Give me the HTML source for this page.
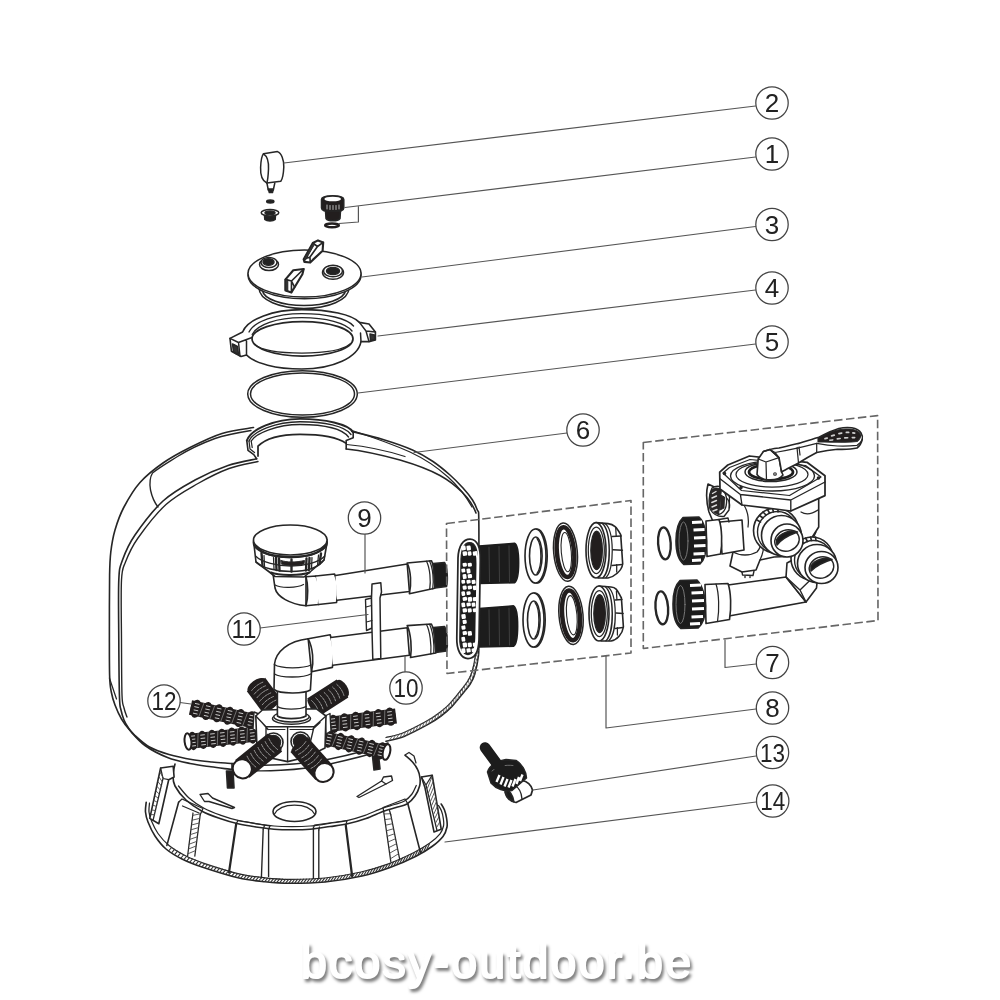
<!DOCTYPE html>
<html><head><meta charset="utf-8"><title>bcosy-outdoor.be</title>
<style>
html,body{margin:0;padding:0;background:#fff;}
body{width:1000px;height:1000px;overflow:hidden;position:relative;}
svg{position:absolute;left:0;top:0;display:block;filter:blur(0.45px);}
.n{font-family:"Liberation Sans",sans-serif;font-size:26px;fill:#222;text-anchor:middle;}
</style></head><body>
<svg width="1000" height="1000" viewBox="0 0 1000 1000" fill="none" stroke="#262626" stroke-width="1.5" stroke-linecap="round" stroke-linejoin="round">
<!-- 05_base.svg -->
<g id="base" stroke-width="1.62">
<path d="M146.2 802.2 C146.1 803.8 145.2 808.7 145.5 812 C145.8 815.3 146.4 818 148 822 C149.6 826 152 831.5 155 836 C158 840.5 161.5 845.2 166 849 C170.5 852.8 176 856 182 859 C188 862 192.7 863.9 202 867 C211.3 870.1 227.5 875.3 238 877.8 C248.5 880.3 256.3 880.9 265 881.8 C273.7 882.7 280 883.3 290 883.3 C300 883.3 313 883.2 325 882 C337 880.8 351.2 878.4 362 876 C372.8 873.6 381 870.8 390 867.5 C399 864.2 409 859.7 416 856.2 C423 852.7 427.5 849.8 432 846.5 C436.5 843.2 440.5 839.6 443 836.4 C445.5 833.1 446.4 830 447 827 C447.6 824 447 821.2 446.6 818.4 C446.2 815.6 445.4 812.4 444.5 810 C443.6 807.6 441.8 805 441.2 804" fill="#fff"/>
<path d="M149.5 803 C149.4 804.5 148.7 809 149 812 C149.3 815 150 817.4 151.5 821 C153 824.6 155.1 829.4 158 833.5 C160.9 837.6 164.5 841.8 169 845.5 C173.5 849.2 179.2 852.5 185 855.5 C190.8 858.5 195 860.2 204 863.3 C213 866.3 228.8 871.4 239 873.8 C249.2 876.2 256.5 876.9 265 877.8 C273.5 878.7 280 879.3 290 879.3 C300 879.3 313.2 879.2 325 878 C336.8 876.8 350.4 874.4 361 872 C371.6 869.6 379.7 867 388.5 863.8 C397.3 860.5 407.2 855.9 414 852.5 C420.8 849.1 425.2 846.4 429.5 843.3 C433.8 840.2 437.7 836.7 440 833.8 C442.3 830.9 442.9 828.6 443.5 826 C444.1 823.4 443.6 820.9 443.3 818.4 C443 815.9 442.3 813.1 441.5 811 C440.7 808.9 439 806.4 438.5 805.5" stroke-width="1.25"/>
<path d="M169 850.5 L171.5 847.5 M172 852.4 L174.5 849.3 M175 854.2 L177.5 851.2 M178 856.1 L180.5 853.1 M181 858 L183.5 855 M184 859.4 L186.5 856.5 M187 860.6 L189.5 857.7 M190 861.8 L192.5 859 M193 863 L195.5 860.2 M196 864.2 L198.5 861.4 M199 865.4 L201.5 862.7 M202 866.6 L204.5 863.8 M205 867.5 L207.5 864.7 M208 868.4 L210.5 865.6 M211 869.3 L213.5 866.5 M214 870.2 L216.5 867.4 M217 871.1 L219.5 868.3 M220 872 L222.5 869.2 M223 872.9 L225.5 870.1 M226 873.8 L228.5 871 M229 874.7 L231.5 871.9 M232 875.6 L234.5 872.8 M235 876.5 L237.5 873.7 M238 877.4 L240.5 874.4 M241 877.8 L243.5 874.9 M244 878.3 L246.5 875.4 M247 878.7 L249.5 875.8 M250 879.2 L252.5 876.3 M253 879.6 L255.5 876.7 M256 880.1 L258.5 877.2 M259 880.5 L261.5 877.7 M262 881 L264.5 878.1 M265 881.4 L267.5 878.3 M268 881.6 L270.5 878.5 M271 881.8 L273.5 878.7 M274 881.9 L276.5 878.9 M277 882.1 L279.5 879.1 M280 882.3 L282.5 879.2 M283 882.5 L285.5 879.4 M286 882.7 L288.5 879.6 M289 882.8 L291.5 879.6 M292 882.8 L294.5 879.5 M295 882.7 L297.5 879.4 M298 882.6 L300.5 879.3 M301 882.5 L303.5 879.2 M304 882.4 L306.5 879.1 M307 882.3 L309.5 879 M310 882.2 L312.5 878.9 M313 882 L315.5 878.8 M316 881.9 L318.5 878.6 M319 881.8 L321.5 878.5 M322 881.7 L324.5 878.4 M325 881.6 L327.5 878 M328 881.1 L330.5 877.5 M331 880.6 L333.5 877 M334 880.1 L336.5 876.5 M337 879.7 L339.5 876 M340 879.2 L342.5 875.5 M343 878.7 L345.5 875 M346 878.2 L348.5 874.5 M349 877.7 L351.5 874 M352 877.2 L354.5 873.5 M355 876.7 L357.5 873 M358 876.2 L360.5 872.5 M361 875.8 L363.5 871.7 M364 875 L366.5 870.8 M367 874.1 L369.5 869.9 M370 873.2 L372.5 869 M373 872.3 L375.5 868.1 M376 871.4 L378.5 867.2 M379 870.4 L381.5 866.3 M382 869.5 L384.5 865.4 M385 868.6 L387.5 864.5 M388 867.7 L390.5 863.3 M391 866.7 L393.5 862 M394 865.4 L396.5 860.7 M397 864.1 L399.5 859.3 M400 862.8 L402.5 858 M403 861.5 L405.5 856.7 M406 860.1 L408.5 855.3 M409 858.8 L411.5 854 M412 857.5 L414.5 852.6 M415 856.2 L417.5 850.8 M418 854.6 L420.5 849 M421 852.8 L423.5 847.3 M424 851 L426.5 845.5 M427 849.1 L429.5 843.7" stroke-width="1.12" stroke="#333"/>
<path d="M175 764 C174.7 765.8 173 771.3 173 775 C173 778.7 172.8 781.8 175 786 C177.2 790.2 181.5 795.8 186 800 C190.5 804.2 196.3 808.1 202 811.2 C207.7 814.3 214 816.4 220 818.5 C226 820.6 232 822.4 238 823.8 C244 825.2 250 826.1 256 827 C262 827.9 268 828.7 274 829.2 C280 829.7 286 829.8 292 829.8 C298 829.8 303.7 829.8 310 829.2 C316.3 828.7 323.7 827.4 330 826.5 C336.3 825.6 341.6 825.1 347.6 823.8 C353.6 822.5 360 820.6 366 818.5 C372 816.4 378.6 813 383.6 811.2 C388.6 809.4 392.1 808.7 396 807.5 C399.9 806.3 403.8 805.9 407 804 C410.2 802.1 412.9 799 415 796 C417.1 793 418.8 789 419.6 786 C420.4 783 420.3 780.7 420 778 C419.7 775.3 419.1 772.5 417.8 769.8 C416.6 767.1 414.6 764.4 412.5 762 C410.4 759.6 406.4 756.5 405.2 755.4" fill="#fff"/>
<path d="M178.5 786 C180.2 788 184.8 794.3 189 798 C193.2 801.7 198.7 805.3 204 808.2 C209.3 811.1 215.2 813.2 221 815.3 C226.8 817.4 233 819.2 239 820.6 C245 822 251.2 822.9 257 823.8 C262.8 824.7 268.2 825.5 274 826 C279.8 826.5 286 826.6 292 826.6 C298 826.6 303.8 826.5 310 826 C316.2 825.5 323.3 824.3 329.5 823.4 C335.7 822.5 341.1 822 347 820.6 C352.9 819.2 359.2 817.3 365 815.3 C370.8 813.2 377.1 810.1 382 808.3 C386.9 806.5 390.8 805.7 394.5 804.5 C398.2 803.3 401.6 802.8 404.5 801 C407.4 799.2 410 796.6 412 794 C414 791.4 415.6 786.9 416.3 785.5" stroke-width="1.25"/>
<path d="M178.6 802.2 L166.9 845.4" stroke-width="1.62"/>
<path d="M193 813 L187.6 856.2" stroke-width="1.25"/>
<path d="M200.2 814.8 L194.8 856.2" stroke-width="1.25"/>
<path d="M236.2 823.8 L229 872.4" stroke-width="2.25"/>
<path d="M263.2 829.2 L261.4 877.8" stroke-width="1.38"/>
<path d="M268.6 829.2 L268.6 876.5" stroke-width="1.38"/>
<path d="M313.4 828 L313.4 878.5" stroke-width="1.38"/>
<path d="M318.8 830 L318.8 878.7" stroke-width="1.38"/>
<path d="M345.8 825.6 L352.1 876" stroke-width="2.25"/>
<path d="M383.6 811.2 L390.8 861.6" stroke-width="1.25"/>
<path d="M390.8 814.8 L399.8 859.8" stroke-width="1.25"/>
<path d="M407.9 804 L420.5 852.6" stroke-width="1.62"/>
<path d="M192.7 815.4 L200.3 813.8 M192.1 820.2 L199.7 818.4 M191.5 825 L199.1 823 M190.9 829.8 L198.5 827.6 M190.3 834.6 L197.9 832.2 M189.7 839.4 L197.3 836.8 M189.1 844.2 L196.7 841.4 M188.5 849 L196.1 846 M187.9 853.8 L195.5 850.6" stroke-width="0.88" stroke="#444"/>
<path d="M384 814 L390.6 813.7 M384.8 819.6 L391.6 818.7 M385.6 825.2 L392.6 823.7 M386.4 830.8 L393.6 828.7 M387.2 836.4 L394.6 833.7 M388 842 L395.6 838.7 M388.8 847.6 L396.6 843.7 M389.6 853.2 L397.6 848.7 M390.4 858.8 L398.6 853.7" stroke-width="0.88" stroke="#444"/>
<path d="M178.6 802.2 L182 799 L203 808.5 L200.2 814.8 M182.5 806 L199 813" stroke-width="1.25"/>
<path d="M236.2 823.8 L238 820.5 L270 826 L268.6 829.2 M263.2 829.2 L264.5 825.5" stroke-width="1.25"/>
<path d="M313.4 828 L314.5 825 L347 820.5 L345.8 825.6 M318.8 830 L319.5 827" stroke-width="1.25"/>
<path d="M383.6 811.2 L383 807.5 L405 799 L407.9 804 M390.8 814.8 L389.5 810.5" stroke-width="1.25"/>
<path d="M160.6 768 L173.2 766.2 L174.1 777 L168.7 779.7 L158.8 823.8 L149.8 818.4Z" fill="#fff"/>
<path d="M160.6 768 L163 778.5 L168.7 779.7 M163 778.5 L153 820.5" stroke-width="1.25"/>
<path d="M160.1 772.4 L163.3 777.8 M159.1 777 L162.3 781.9 M158.1 781.8 L161.4 786 M157.1 786.5 L160.4 790.1 M156.1 791.1 L159.5 794.2 M155 795.9 L158.5 798.3 M154 800.5 L157.6 802.4 M153 805.2 L156.6 806.5 M152 810 L155.7 810.6 M151 814.6 L154.7 814.7" stroke-width="0.88" stroke="#444"/>
<path d="M421.4 777 L432.2 775.2 L441.2 829.2 L434 831.9 L425 787.8Z" fill="#fff"/>
<path d="M421.4 777 L426 785 L432.2 775.2 M426 785 L437 830.5" stroke-width="1.25"/>
<path d="M427.5 788.1 L432.2 776.5 M428.6 792.5 L433.1 781.5 M429.6 796.8 L433.9 786.5 M430.7 801 L434.8 791.5 M431.7 805.4 L435.6 796.5 M432.8 809.6 L436.5 801.5 M433.8 814 L437.3 806.5 M434.9 818.2 L438.2 811.5 M435.9 822.5 L439 816.5 M437 826.9 L439.9 821.5" stroke-width="0.88" stroke="#444"/>
<path d="M405 755 L409 752.5 L414 756 L416 763" stroke-width="1.25"/>
<ellipse cx="294.5" cy="811.5" rx="21.5" ry="10" fill="#fff"/>
<path d="M274.5 814 C278 807.5 286 805 294.5 805 C303 805 311 807.5 314.5 814" stroke-width="1.25"/>
<path d="M200 794.5 L208 793.5 L212.5 798 L234.5 807.5 L232 808.5 L209 801.5 L204.5 801.5Z" fill="#fff" stroke-width="1.38"/>
<path d="M357 796.5 L381.5 781 L383.5 777 L391.5 776 L392.5 780.5 L386 784 L359 797.5Z" fill="#fff" stroke-width="1.38"/>
<path d="M381.5 781 L386 784" stroke-width="1.25"/>
<path d="M226.5 771 L233 771 L234 788 L227.5 788Z" fill="#221e1e"/>
<path d="M372.5 756 L378.5 755 L380 769 L374 770Z" fill="#221e1e"/>
</g>
<!-- 10_tank.svg -->
<g id="tank" stroke-width="1.62">
<!-- outer silhouette -->
<path d="M253.5 427.5 C248.2 428.5 232.6 430.2 222 433.5 C211.4 436.8 199.8 442.6 190 447.5 C180.2 452.4 171.3 457.2 163 463 C154.7 468.8 146.5 475.2 140 482.5 C133.5 489.8 128.2 499.1 124 507 C119.8 514.9 117.2 522.5 115 530 C112.8 537.5 111.7 544.5 110.8 552 C109.9 559.5 109.8 562.8 109.6 575 C109.4 587.2 109.4 608.3 109.4 625 C109.4 641.7 109.3 663.8 109.6 675 C109.9 686.2 110.4 687 111.3 692 C112.2 697 113.3 700.5 115 705 C116.7 709.5 119 714.8 121.5 719 C124 723.2 126.1 726.1 130 730.5 C133.9 734.9 138.8 741 145 745.5 C151.2 750 160 754.5 167.5 757.5 C175 760.5 182.8 762 190 763.5 C197.2 765 204 765.8 211 766.8 C218 767.8 228.5 769 232 769.5"/>
<path d="M352 431.5 C357.2 432.8 372.9 436.4 383 439.5 C393.1 442.6 404.2 446.3 412.5 450 C420.8 453.7 426.8 457.3 433 461.5 C439.2 465.7 445 470.6 450 475 C455 479.4 459.2 483.8 463 488 C466.8 492.2 470.1 496.3 472.5 500 C474.9 503.7 476.2 506.7 477.3 510 C478.4 513.3 478.6 506.7 478.8 520 C479.1 533.3 478.8 570 478.8 590 C478.8 610 478.9 629 478.8 640 C478.7 651 479.1 650.3 478.4 656 C477.7 661.7 476.1 669.4 474.8 674 C473.5 678.6 472.3 680.5 470.5 683.5 C468.7 686.5 467.1 688.2 464 692 C460.9 695.8 455.8 702.4 452 706.4 C448.2 710.4 445 713 441 716 C437 719 434.2 721 428 724.4 C421.8 727.8 411 733.6 404 736.4 C397 739.2 389 740.4 386 741.2"/>
<path d="M476 640 C475.9 642.5 476.2 649.7 475.5 655 C474.8 660.3 473.3 667.7 472 672 C470.7 676.3 469.6 678.1 467.8 681 C466.1 683.9 464.5 685.7 461.5 689.5 C458.5 693.3 453.6 699.7 449.8 703.6 C446.1 707.5 442.9 710 439 713 C435.1 716 432.3 718 426.3 721.3 C420.3 724.6 409.5 730.3 402.8 733 C396.1 735.7 388.8 736.8 386 737.5" stroke-width="1.25"/><path d="M478.7 643.6 L476 640 M478.6 647.1 L475.9 643.4 M478.5 650.7 L475.8 646.9 M478.4 654.3 L475.7 650.3 M478 657.8 L475.5 653.7 M477.3 661.3 L475.1 657.1 M476.6 664.8 L474.4 660.5 M475.9 668.3 L473.7 663.9 M475.2 671.8 L473 667.2 M474.3 675.2 L472.3 670.6 M472.8 678.4 L471.2 673.8 M471.3 681.7 L469.7 676.9 M469.5 684.7 L468.2 680 M467.4 687.6 L466.4 682.9 M465.2 690.4 L464.3 685.7 M463 693.2 L462.3 688.4 M460.7 695.9 L460.2 691.1 M458.4 698.7 L458 693.8 M456.1 701.4 L455.8 696.4 M453.9 704.2 L453.6 699.1 M451.5 706.8 L451.4 701.7 M448.8 709.2 L449.1 704.2 M446.1 711.5 L446.5 706.5 M443.4 713.9 L443.9 708.7 M440.7 716.2 L441.3 711 M437.7 718.1 L438.7 713.2 M434.7 720 L435.8 715.1 M431.7 722 L432.9 717 M428.8 723.9 L430 718.9 M425.6 725.6 L427.2 720.7 M422.4 727.2 L424.1 722.4 M419.2 728.8 L421.1 723.9 M416 730.4 L418 725.4 M412.9 732 L414.9 727 M409.7 733.6 L411.8 728.5 M406.5 735.2 L408.8 730 M403.2 736.6 L405.7 731.6 M399.8 737.5 L402.6 733.1 M396.3 738.4 L399.3 733.9 M392.9 739.4 L396 734.8 M389.4 740.3 L392.6 735.7" stroke-width="0.88" stroke="#555"/>
<!-- neck -->
<path d="M246.8 440.6 L248 450.4 L253.8 454.6 L256.6 458.8"/>
<path d="M249 441 L250 449 L254.5 452.5 M251.2 441 L252.2 447.5" stroke-width="1.25"/>
<path d="M352 431 L353.2 432.2 L353.2 437.8 L346.2 440.6 L346.2 449"/>
<path d="M246.8 440.6 C251 429 275 419 300 418.9 C325 419 348 424 353.2 432.2" stroke-width="1.88"/>
<path d="M249 441 C253.5 431 276 421.8 300 421.7 C324 421.8 345 426 351 434.5" stroke-width="1.38"/>
<path d="M251.2 441 C256 433 277 424.6 300 424.5 C323 424.6 342 428.5 348.5 437" stroke-width="1.38"/>
<path d="M258 456 L258 446.2 C266 438 282 434.3 300 434.3 C320 434.3 338 437.5 346.2 443.4" stroke-width="1.75"/>
<!-- left shoulder cut lines -->
<path d="M256.6 458.8 C251.8 459.9 238.3 462 228 465.5 C217.7 469 205.8 474.1 195 480 C184.2 485.9 173 491.8 163 501 C153 510.2 141.8 525.2 135 535 C128.2 544.8 125.2 552.5 122.5 560 C119.8 567.5 119.4 566.7 118.8 580 C118.2 593.3 118.7 620.4 118.8 640 C118.9 659.6 119.1 685.8 119.5 697.5 C119.9 709.2 120.2 706.2 121 710 C121.8 713.8 122.8 717 124 720 C125.2 723 126.8 725.5 128.5 728 C130.2 730.5 131 731.8 134.5 735 C138 738.2 143.8 743.8 149.5 747 C155.2 750.2 161.8 752.4 169 754.5 C176.2 756.6 185.8 758.5 193 759.8 C200.2 761 205.5 761.4 212 762 C218.5 762.6 228.7 763.2 232 763.5 L232 769.5"/>
<path d="M258 461.5 C253.2 462.7 239 464.8 229 468.5 C219 472.2 208.5 477.5 198 483.5 C187.5 489.5 176 495.4 166 504.5 C156 513.6 144.8 528.4 138 538 C131.2 547.6 128.2 555 125.5 562 C122.8 569 122.2 567 121.5 580 C120.8 593 121.4 620.8 121.5 640 C121.6 659.2 121.6 683.7 122 695 C122.4 706.3 123.2 704.3 124 708 C124.8 711.7 126.5 715.5 127 717" stroke-width="1.38"/>
<path d="M109.4 678 L116.5 699" stroke-width="1.25"/>
<!-- left leaf -->
<path d="M251 430.5 C236 433 225 435 215 438.5 C200 444 188 450 177.5 456.5 C168 462.5 160 467 152.5 473 C149.5 478 149.5 484 150.5 490 C152 497 154 502 158 507" stroke-width="1.38"/>
<!-- right shoulder inner lines -->
<path d="M346.2 449 C360 450.5 380 454.5 400 460 C417 465 430 470 440 475.5 C450 481 457 487 462.5 492.5 C469 499 473 505 476 513"/>
<path d="M346.5 444.5 C362 446 385 450 405 456.5 M353.5 431 C375 438 392 444 410 452 C425 459 438 468 448 477 C458 486 466 496 472 507" stroke-width="1.25"/>
<!-- bottom cut edge behind laterals -->
<path d="M232 763.5 C262 767 300 765 330 759 C352 754.5 372 749 388 743"/><path d="M232 769.5 C262 772.5 300 770.5 330 764 C350 759.5 368 755 384 750" stroke-width="1.38"/>
</g>

<!-- 20_top.svg -->
<g id="gauge">
<path d="M263.5 153.8 L277.5 151.6 C281.5 153 284 160 283.8 167 C283.5 174 282.5 179 280.8 181.3 L266.8 183 C262.5 181 260.3 175 260.6 167.5 C260.9 160 262 155.5 263.5 153.8Z" fill="#fff"/>
<path d="M263.5 153.8 C267 156 268.8 162 268.5 169 C268.2 176 267.8 180 266.8 183"/>
<path d="M267 183.5 L268.3 190 L273.3 190 L274.8 183"/>
<path d="M268.3 189 L273.3 189 L272.5 192.5 L269.3 192.5Z" fill="#222"/>
<ellipse cx="270.3" cy="201.5" rx="3.6" ry="1.5" fill="#222"/>
<ellipse cx="270" cy="212.8" rx="8.8" ry="3.2" fill="#fff"/>
<ellipse cx="270" cy="212.8" rx="5" ry="1.8" fill="#222"/>
<path d="M264.5 215.5 L264.8 219.5 C267 221.5 273 221.5 275.2 219.5 L275.5 215.5 C272 217.2 268 217.2 264.5 215.5Z" fill="#222"/>
</g>
<g id="plug">
<path d="M321.5 199.5 C321.5 194.5 343.8 194.5 343.8 199.5 L343.8 208 C343.8 213 321.5 213 321.5 208Z" fill="#221e1e"/>
<ellipse cx="332.7" cy="199" rx="8.3" ry="2.3" fill="#fff" stroke="none"/>
<path d="M325.5 211 L326 218.5 C328 221.5 338 221.5 340 218.5 L340.5 211Z" fill="#221e1e"/>
<path d="M327 205 L327 209 M330 205.5 L330 209.5 M333 205.5 L333 209.5 M336 205.5 L336 209.5 M339 205 L339 209" stroke="#bbb" stroke-width="1"/>
<ellipse cx="332" cy="225.3" rx="6.8" ry="1.9" stroke="#221e1e" stroke-width="2.5"/>
</g>

<g id="lid">
<path d="M259 288 C259 300 280 308.5 304 308.5 C328 308.5 349 300 349 288" fill="#fff"/>
<path d="M262.5 291 C264 299 282 305.5 304 305.5 C326 305.5 344 299 345.5 291"/>
<ellipse cx="304.5" cy="275.3" rx="56.5" ry="23.5" fill="#fff"/>
<ellipse cx="304.5" cy="273.5" rx="56.5" ry="23.5" fill="#fff"/>
<!-- left port -->
<ellipse cx="269" cy="264.5" rx="9.5" ry="6" fill="#fff"/>
<ellipse cx="269" cy="262.5" rx="8" ry="5" fill="#fff"/>
<ellipse cx="268.5" cy="262" rx="5.5" ry="3.3" fill="#222"/>
<!-- right port -->
<ellipse cx="333" cy="272.5" rx="10.5" ry="6.8" fill="#fff"/>
<ellipse cx="333" cy="271" rx="9.5" ry="5.8" fill="#fff"/>
<ellipse cx="333" cy="271" rx="6.5" ry="3.6" fill="#222"/>
<!-- handles -->
<path d="M303.7 259.3 L312.8 243 L318 240.4 L323.2 242.4 L322.6 250.8 L312.8 259.9 L310.2 262.5 L304.4 261.9Z" fill="#fff" stroke-width="2.12"/>
<path d="M312.8 243 L317.5 246.5 L323.2 242.4 M317.5 246.5 L310 257 L310.2 262.5 M303.7 259.3 L310 257" stroke-width="1.62"/>
<path d="M303.7 259.3 L312.8 243 L314.5 244.3 L305.5 260Z" fill="#333" stroke-width="1"/>
<path d="M285.5 279.4 L293.3 270.3 L303.7 269 L302.4 274.2 L294.6 287.2 L291.4 292.4 L285.5 290.5Z" fill="#fff" stroke-width="2.12"/>
<path d="M285.5 279.4 L291.5 281 L303.7 269 M291.5 281 L291.4 292.4 M291.5 281 L294.6 287.2" stroke-width="1.62"/>
<path d="M285.5 279.4 L287.8 280 L287.8 291.2 L285.5 290.5Z" fill="#333" stroke-width="1"/>
</g>
<g id="clamp">
<path d="M242.6 332 L230 338.4 L230.5 343 L231.4 351.2 L241 356.5 L246.5 355 C255 363.5 276 369 301.8 369 C333 369 358 357.5 361 341.6 L369 341.6 L375.4 340 L375.4 332 L369 324 L359.4 322.4 C352 314.5 329 309.6 301.8 309.6 C273 309.6 248 319 242.6 332Z" fill="#fff" stroke-width="1.62"/>
<path d="M249 332 C254 321.5 276 313.6 301.8 313.6 C327 313.6 347 318.5 353.5 326" stroke-width="1.38"/>
<path d="M252.2 334.5 C257 324.5 277 317.6 301.8 317.6 C326 317.6 346 323 352 331" stroke-width="1.38"/>
<ellipse cx="302.5" cy="338.8" rx="50.5" ry="17.3" fill="#fff" stroke-width="1.75"/>
<path d="M255 344.5 C262 351 279 353 302 353 C325 353 343 350 350 344" stroke-width="1.25"/>
<path d="M230 338.4 L238.5 342.5 L252 337.5 M238.5 342.5 L240 356 M234.5 345 L235.5 353.5 M246.5 341 L246.5 355" stroke-width="1.5"/>
<path d="M232.5 344 L237.5 346.5 L238.5 354.5 L233.5 352Z" fill="#333"/>
<path d="M359.4 322.4 L366 331 L369 341.6 M366 331 L375.4 332 M361 341.6 L360.5 333" stroke-width="1.5"/>
<path d="M370 334 L374.5 335 L374.8 339.5 L370.5 340.5Z" fill="#333"/>
</g>
<g id="oring">
<ellipse cx="302.5" cy="394" rx="54.8" ry="23.3" fill="#fff" stroke-width="1.5"/>
<ellipse cx="302.5" cy="394" rx="52" ry="21" stroke-width="1.5"/>
</g>

<!-- 25_laterals.svg -->
<g id="laterals">
<ellipse cx="256.3" cy="684.9" rx="4.5" ry="9.9" transform="rotate(53.3 256 684.5)" fill="#221e1e" stroke="none"/>
<path d="M256 684.5 L272 706" stroke="#221e1e" stroke-width="22.88" stroke-linecap="butt"/>
<ellipse cx="256" cy="684.5" rx="2.4" ry="10.2" transform="rotate(53.3 256 684.5)" fill="#221e1e" stroke="none"/>
<ellipse cx="258.7" cy="688.1" rx="2.4" ry="10.2" transform="rotate(53.3 258.7 688.1)" fill="#221e1e" stroke="none"/>
<ellipse cx="261.3" cy="691.7" rx="2.4" ry="10.2" transform="rotate(53.3 261.3 691.7)" fill="#221e1e" stroke="none"/>
<ellipse cx="264" cy="695.2" rx="2.4" ry="10.2" transform="rotate(53.3 264 695.2)" fill="#221e1e" stroke="none"/>
<ellipse cx="266.7" cy="698.8" rx="2.4" ry="10.2" transform="rotate(53.3 266.7 698.8)" fill="#221e1e" stroke="none"/>
<ellipse cx="269.3" cy="702.4" rx="2.4" ry="10.2" transform="rotate(53.3 269.3 702.4)" fill="#221e1e" stroke="none"/>
<ellipse cx="272" cy="706" rx="2.4" ry="10.2" transform="rotate(53.3 272 706)" fill="#221e1e" stroke="none"/>
<path d="M251.7 690.5 Q256.3 684.8 263 682.1 M254.3 694.1 Q258.9 688.4 265.7 685.7 M257 697.7 Q261.6 692 268.3 689.2 M259.7 701.3 Q264.3 695.6 271 692.8 M262.3 704.8 Q266.9 699.2 273.7 696.4 M265 708.4 Q269.6 702.8 276.3 700" stroke="#a8a8a8" stroke-width="0.88" stroke-dasharray="2.6 1.2"/>
<ellipse cx="342.1" cy="688.8" rx="4.5" ry="9.4" transform="rotate(147.2 342.5 688.5)" fill="#221e1e" stroke="none"/>
<path d="M342.5 688.5 L313 707.5" stroke="#221e1e" stroke-width="21.62" stroke-linecap="butt"/>
<ellipse cx="342.5" cy="688.5" rx="2.4" ry="9.8" transform="rotate(147.2 342.5 688.5)" fill="#221e1e" stroke="none"/>
<ellipse cx="338.3" cy="691.2" rx="2.4" ry="9.8" transform="rotate(147.2 338.3 691.2)" fill="#221e1e" stroke="none"/>
<ellipse cx="334.1" cy="693.9" rx="2.4" ry="9.8" transform="rotate(147.2 334.1 693.9)" fill="#221e1e" stroke="none"/>
<ellipse cx="329.9" cy="696.6" rx="2.4" ry="9.8" transform="rotate(147.2 329.9 696.6)" fill="#221e1e" stroke="none"/>
<ellipse cx="325.6" cy="699.4" rx="2.4" ry="9.8" transform="rotate(147.2 325.6 699.4)" fill="#221e1e" stroke="none"/>
<ellipse cx="321.4" cy="702.1" rx="2.4" ry="9.8" transform="rotate(147.2 321.4 702.1)" fill="#221e1e" stroke="none"/>
<ellipse cx="317.2" cy="704.8" rx="2.4" ry="9.8" transform="rotate(147.2 317.2 704.8)" fill="#221e1e" stroke="none"/>
<ellipse cx="313" cy="707.5" rx="2.4" ry="9.8" transform="rotate(147.2 313 707.5)" fill="#221e1e" stroke="none"/>
<path d="M336.8 684.4 Q341.9 688.9 343.9 695.4 M332.6 687.1 Q337.7 691.6 339.7 698.1 M328.4 689.8 Q333.5 694.3 335.5 700.8 M324.2 692.5 Q329.3 697 331.3 703.5 M320 695.2 Q325 699.7 327.1 706.2 M315.8 697.9 Q320.8 702.5 322.9 708.9 M311.6 700.6 Q316.6 705.2 318.7 711.6" stroke="#a8a8a8" stroke-width="0.88" stroke-dasharray="2.6 1.2"/>
<path d="M190.5 707.5 L256 721.5" stroke="#221e1e" stroke-width="15" stroke-linecap="butt"/>
<ellipse cx="196" cy="708.7" rx="5.4" ry="9.2" transform="rotate(12.1 196 708.7)" fill="#221e1e" stroke="none"/>
<ellipse cx="206.9" cy="711" rx="5.4" ry="9.2" transform="rotate(12.1 206.9 711)" fill="#221e1e" stroke="none"/>
<ellipse cx="217.8" cy="713.3" rx="5.4" ry="9.2" transform="rotate(12.1 217.8 713.3)" fill="#221e1e" stroke="none"/>
<ellipse cx="228.7" cy="715.7" rx="5.4" ry="9.2" transform="rotate(12.1 228.7 715.7)" fill="#221e1e" stroke="none"/>
<ellipse cx="239.6" cy="718" rx="5.4" ry="9.2" transform="rotate(12.1 239.6 718)" fill="#221e1e" stroke="none"/>
<ellipse cx="250.5" cy="720.3" rx="5.4" ry="9.2" transform="rotate(12.1 250.5 720.3)" fill="#221e1e" stroke="none"/>
<path d="M195 703.4 L199.5 704.4 M194.3 706.6 L198.8 707.6 M193.7 709.9 L198.2 710.8 M193 713.1 L197.5 714.1 M206 705.7 L210.5 706.7 M205.3 709 L209.8 709.9 M204.6 712.2 L209.1 713.2 M203.9 715.4 L208.4 716.4 M216.9 708.1 L221.4 709 M216.2 711.3 L220.7 712.3 M215.5 714.5 L220 715.5 M214.8 717.8 L219.3 718.7 M227.8 710.4 L232.3 711.4 M227.1 713.6 L231.6 714.6 M226.4 716.9 L230.9 717.8 M225.7 720.1 L230.2 721.1 M238.7 712.7 L243.2 713.7 M238 716 L242.5 716.9 M237.3 719.2 L241.8 720.2 M236.6 722.4 L241.1 723.4 M249.6 715.1 L254.1 716 M248.9 718.3 L253.4 719.3 M248.2 721.5 L252.7 722.5 M247.6 724.8 L252 725.7" stroke="#c8c8c8" stroke-width="1" stroke-linecap="butt"/>
<path d="M199 716.2 L203.8 703.4 M209.9 718.6 L214.7 705.8 M220.9 720.9 L225.6 708.1 M231.8 723.2 L236.6 710.4 M242.7 725.6 L247.5 712.8" stroke="#8a8a8a" stroke-width="0.75"/>
<path d="M396 716 L328 724.5" stroke="#221e1e" stroke-width="15" stroke-linecap="butt"/>
<ellipse cx="390.3" cy="716.7" rx="5.5" ry="9.2" transform="rotate(172.9 390.3 716.7)" fill="#221e1e" stroke="none"/>
<ellipse cx="379" cy="718.1" rx="5.5" ry="9.2" transform="rotate(172.9 379 718.1)" fill="#221e1e" stroke="none"/>
<ellipse cx="367.7" cy="719.5" rx="5.5" ry="9.2" transform="rotate(172.9 367.7 719.5)" fill="#221e1e" stroke="none"/>
<ellipse cx="356.3" cy="721" rx="5.5" ry="9.2" transform="rotate(172.9 356.3 721)" fill="#221e1e" stroke="none"/>
<ellipse cx="345" cy="722.4" rx="5.5" ry="9.2" transform="rotate(172.9 345 722.4)" fill="#221e1e" stroke="none"/>
<ellipse cx="333.7" cy="723.8" rx="5.5" ry="9.2" transform="rotate(172.9 333.7 723.8)" fill="#221e1e" stroke="none"/>
<path d="M392.9 721.4 L388.4 721.9 M392.5 718.1 L388 718.7 M392.1 714.8 L387.5 715.4 M391.7 711.5 L387.1 712.1 M381.6 722.8 L377 723.4 M381.2 719.5 L376.6 720.1 M380.8 716.2 L376.2 716.8 M380.4 713 L375.8 713.5 M370.3 724.2 L365.7 724.8 M369.9 720.9 L365.3 721.5 M369.4 717.7 L364.9 718.2 M369 714.4 L364.5 714.9 M358.9 725.6 L354.4 726.2 M358.5 722.3 L354 722.9 M358.1 719.1 L353.5 719.6 M357.7 715.8 L353.1 716.4 M347.6 727 L343 727.6 M347.2 723.8 L342.6 724.3 M346.8 720.5 L342.2 721.1 M346.4 717.2 L341.8 717.8 M336.3 728.5 L331.7 729 M335.9 725.2 L331.3 725.8 M335.4 721.9 L330.9 722.5 M335 718.6 L330.5 719.2" stroke="#c8c8c8" stroke-width="1" stroke-linecap="butt"/>
<path d="M384.8 710.6 L384.5 724.2 M373.5 712 L373.2 725.7 M362.2 713.4 L361.8 727.1 M350.8 714.8 L350.5 728.5 M339.5 716.3 L339.2 729.9" stroke="#8a8a8a" stroke-width="0.75"/>
<path d="M188 741.5 L257 734" stroke="#221e1e" stroke-width="15" stroke-linecap="butt"/>
<ellipse cx="192.9" cy="741" rx="4.8" ry="9.2" transform="rotate(-6.2 192.9 741)" fill="#221e1e" stroke="none"/>
<ellipse cx="202.8" cy="739.9" rx="4.8" ry="9.2" transform="rotate(-6.2 202.8 739.9)" fill="#221e1e" stroke="none"/>
<ellipse cx="212.6" cy="738.8" rx="4.8" ry="9.2" transform="rotate(-6.2 212.6 738.8)" fill="#221e1e" stroke="none"/>
<ellipse cx="222.5" cy="737.8" rx="4.8" ry="9.2" transform="rotate(-6.2 222.5 737.8)" fill="#221e1e" stroke="none"/>
<ellipse cx="232.4" cy="736.7" rx="4.8" ry="9.2" transform="rotate(-6.2 232.4 736.7)" fill="#221e1e" stroke="none"/>
<ellipse cx="242.2" cy="735.6" rx="4.8" ry="9.2" transform="rotate(-6.2 242.2 735.6)" fill="#221e1e" stroke="none"/>
<ellipse cx="252.1" cy="734.5" rx="4.8" ry="9.2" transform="rotate(-6.2 252.1 734.5)" fill="#221e1e" stroke="none"/>
<path d="M190.4 736.3 L195 735.8 M190.8 739.5 L195.3 739 M191.1 742.8 L195.7 742.3 M191.5 746.1 L196 745.6 M200.3 735.2 L204.8 734.7 M200.6 738.5 L205.2 738 M201 741.8 L205.5 741.3 M201.3 745 L205.9 744.5 M210.1 734.1 L214.7 733.6 M210.5 737.4 L215 736.9 M210.8 740.7 L215.4 740.2 M211.2 744 L215.8 743.5 M220 733 L224.5 732.5 M220.3 736.3 L224.9 735.8 M220.7 739.6 L225.3 739.1 M221 742.9 L225.6 742.4 M229.8 732 L234.4 731.5 M230.2 735.3 L234.8 734.8 M230.5 738.5 L235.1 738 M230.9 741.8 L235.5 741.3 M239.7 730.9 L244.3 730.4 M240 734.2 L244.6 733.7 M240.4 737.5 L245 737 M240.8 740.7 L245.3 740.3 M249.5 729.8 L254.1 729.3 M249.9 733.1 L254.5 732.6 M250.3 736.4 L254.8 735.9 M250.6 739.7 L255.2 739.2" stroke="#c8c8c8" stroke-width="1" stroke-linecap="butt"/>
<path d="M197.6 747.2 L198.1 733.6 M207.4 746.2 L208 732.5 M217.3 745.1 L217.8 731.5 M227.2 744 L227.7 730.4 M237 743 L237.6 729.3 M246.9 741.9 L247.4 728.3" stroke="#8a8a8a" stroke-width="0.75"/>
<ellipse cx="188" cy="741.5" rx="3.4" ry="8.3" transform="rotate(-6.2 188 741.5)" fill="#fff" stroke="#221e1e" stroke-width="2"/>
<path d="M386.5 752 L324 738" stroke="#221e1e" stroke-width="13.75" stroke-linecap="butt"/>
<ellipse cx="381.3" cy="750.8" rx="5.1" ry="8.8" transform="rotate(-167.4 381.3 750.8)" fill="#221e1e" stroke="none"/>
<ellipse cx="370.9" cy="748.5" rx="5.1" ry="8.8" transform="rotate(-167.4 370.9 748.5)" fill="#221e1e" stroke="none"/>
<ellipse cx="360.5" cy="746.2" rx="5.1" ry="8.8" transform="rotate(-167.4 360.5 746.2)" fill="#221e1e" stroke="none"/>
<ellipse cx="350" cy="743.8" rx="5.1" ry="8.8" transform="rotate(-167.4 350 743.8)" fill="#221e1e" stroke="none"/>
<ellipse cx="339.6" cy="741.5" rx="5.1" ry="8.8" transform="rotate(-167.4 339.6 741.5)" fill="#221e1e" stroke="none"/>
<ellipse cx="329.2" cy="739.2" rx="5.1" ry="8.8" transform="rotate(-167.4 329.2 739.2)" fill="#221e1e" stroke="none"/>
<path d="M382.2 755.8 L377.7 754.8 M382.9 752.8 L378.4 751.8 M383.6 749.7 L379.1 748.7 M384.3 746.7 L379.8 745.7 M371.8 753.5 L367.3 752.5 M372.5 750.5 L368 749.5 M373.2 747.4 L368.7 746.4 M373.9 744.4 L369.4 743.4 M361.4 751.2 L356.9 750.2 M362.1 748.1 L357.6 747.1 M362.8 745.1 L358.3 744.1 M363.4 742 L358.9 741 M351 748.8 L346.5 747.8 M351.7 745.8 L347.2 744.8 M352.3 742.7 L347.8 741.7 M353 739.7 L348.5 738.7 M340.6 746.5 L336.1 745.5 M341.2 743.5 L336.7 742.5 M341.9 740.4 L337.4 739.4 M342.6 737.4 L338.1 736.4 M330.1 744.2 L325.6 743.2 M330.8 741.1 L326.3 740.1 M331.5 738.1 L327 737.1 M332.2 735 L327.7 734" stroke="#c8c8c8" stroke-width="1" stroke-linecap="butt"/>
<path d="M378.4 743.8 L373.7 755.5 M368 741.5 L363.3 753.2 M357.6 739.1 L352.9 750.9 M347.2 736.8 L342.5 748.5 M336.8 734.5 L332.1 746.2" stroke="#8a8a8a" stroke-width="0.75"/>
<ellipse cx="386.5" cy="752" rx="3.6" ry="8" transform="rotate(-167.4 386.5 752)" fill="#fff" stroke="#221e1e" stroke-width="2"/>
<path d="M254 712 L259 714 L259 732 L253 729Z M330 713.5 L325 716 L326 734 L331 731Z" fill="#fff" stroke-width="1.38"/>
<path d="M255.8 716 L262.4 710 L316.4 708.8 L326 716 L325 748 L306.8 757 L287.6 761.6 L266 757 L257 748Z" fill="#fff" stroke-width="1.62"/>
<path d="M255.8 716 L266 726.8 L314 726.8 L326 716 M266 726.8 L266 757 M314 726.8 L306.8 757 M287.6 727 L287.6 761.6 M262 722.5 L268 729.5 M320 722.5 L312.5 729.5" stroke-width="1.38"/>
<path d="M268.5 729.5 L285 729.5 M290 729.5 L311.5 729.5" stroke-width="1.12"/>
<ellipse cx="291.5" cy="718.5" rx="19" ry="5.8" fill="#fff" stroke-width="1.5"/>
<ellipse cx="291.5" cy="716.8" rx="17.6" ry="5.2" fill="#fff" stroke-width="1.38"/>
<circle cx="273.5" cy="742.5" r="9.5" fill="#fff" stroke-width="1.62"/><circle cx="273.5" cy="742.5" r="7" fill="#221e1e"/>
<circle cx="300.5" cy="741.5" r="9.5" fill="#fff" stroke-width="1.62"/><circle cx="300.5" cy="741.5" r="7" fill="#221e1e"/>
<path d="M242.3 768.8 L275 742.5" stroke="#221e1e" stroke-width="22.88" stroke-linecap="butt"/>
<ellipse cx="242.3" cy="768.8" rx="2.4" ry="10.2" transform="rotate(-38.8 242.3 768.8)" fill="#221e1e" stroke="none"/>
<ellipse cx="245.9" cy="765.9" rx="2.4" ry="10.2" transform="rotate(-38.8 245.9 765.9)" fill="#221e1e" stroke="none"/>
<ellipse cx="249.6" cy="763" rx="2.4" ry="10.2" transform="rotate(-38.8 249.6 763)" fill="#221e1e" stroke="none"/>
<ellipse cx="253.2" cy="760" rx="2.4" ry="10.2" transform="rotate(-38.8 253.2 760)" fill="#221e1e" stroke="none"/>
<ellipse cx="256.8" cy="757.1" rx="2.4" ry="10.2" transform="rotate(-38.8 256.8 757.1)" fill="#221e1e" stroke="none"/>
<ellipse cx="260.5" cy="754.2" rx="2.4" ry="10.2" transform="rotate(-38.8 260.5 754.2)" fill="#221e1e" stroke="none"/>
<ellipse cx="264.1" cy="751.3" rx="2.4" ry="10.2" transform="rotate(-38.8 264.1 751.3)" fill="#221e1e" stroke="none"/>
<ellipse cx="267.7" cy="748.3" rx="2.4" ry="10.2" transform="rotate(-38.8 267.7 748.3)" fill="#221e1e" stroke="none"/>
<ellipse cx="271.4" cy="745.4" rx="2.4" ry="10.2" transform="rotate(-38.8 271.4 745.4)" fill="#221e1e" stroke="none"/>
<ellipse cx="275" cy="742.5" rx="2.4" ry="10.2" transform="rotate(-38.8 275 742.5)" fill="#221e1e" stroke="none"/>
<path d="M248.5 772.8 Q242.7 768.5 239.7 761.8 M252.2 769.9 Q246.3 765.5 243.3 758.9 M255.8 767 Q250 762.6 247 756 M259.4 764.1 Q253.6 759.7 250.6 753.1 M263.1 761.1 Q257.2 756.8 254.2 750.2 M266.7 758.2 Q260.9 753.9 257.9 747.2 M270.3 755.3 Q264.5 750.9 261.5 744.3 M274 752.4 Q268.1 748 265.1 741.4 M277.6 749.5 Q271.8 745.1 268.8 738.5" stroke="#a8a8a8" stroke-width="0.88" stroke-dasharray="2.6 1.2"/>
<ellipse cx="242.3" cy="768.8" rx="9.4" ry="9.8" transform="rotate(-38.8 242.3 768.8)" fill="#fff" stroke="#221e1e" stroke-width="2"/>
<path d="M324 772.5 L299 744.5" stroke="#221e1e" stroke-width="22.88" stroke-linecap="butt"/>
<ellipse cx="324" cy="772.5" rx="2.4" ry="10.2" transform="rotate(-131.8 324 772.5)" fill="#221e1e" stroke="none"/>
<ellipse cx="320.9" cy="769" rx="2.4" ry="10.2" transform="rotate(-131.8 320.9 769)" fill="#221e1e" stroke="none"/>
<ellipse cx="317.8" cy="765.5" rx="2.4" ry="10.2" transform="rotate(-131.8 317.8 765.5)" fill="#221e1e" stroke="none"/>
<ellipse cx="314.6" cy="762" rx="2.4" ry="10.2" transform="rotate(-131.8 314.6 762)" fill="#221e1e" stroke="none"/>
<ellipse cx="311.5" cy="758.5" rx="2.4" ry="10.2" transform="rotate(-131.8 311.5 758.5)" fill="#221e1e" stroke="none"/>
<ellipse cx="308.4" cy="755" rx="2.4" ry="10.2" transform="rotate(-131.8 308.4 755)" fill="#221e1e" stroke="none"/>
<ellipse cx="305.2" cy="751.5" rx="2.4" ry="10.2" transform="rotate(-131.8 305.2 751.5)" fill="#221e1e" stroke="none"/>
<ellipse cx="302.1" cy="748" rx="2.4" ry="10.2" transform="rotate(-131.8 302.1 748)" fill="#221e1e" stroke="none"/>
<ellipse cx="299" cy="744.5" rx="2.4" ry="10.2" transform="rotate(-131.8 299 744.5)" fill="#221e1e" stroke="none"/>
<path d="M327.7 766.1 Q323.6 772.1 317.2 775.4 M324.6 762.6 Q320.5 768.6 314.1 771.9 M321.4 759.1 Q317.4 765.1 310.9 768.4 M318.3 755.6 Q314.3 761.6 307.8 764.9 M315.2 752.1 Q311.1 758.1 304.7 761.4 M312.1 748.6 Q308 754.6 301.6 757.9 M308.9 745.1 Q304.9 751.1 298.4 754.4 M305.8 741.6 Q301.8 747.6 295.3 750.9" stroke="#a8a8a8" stroke-width="0.88" stroke-dasharray="2.6 1.2"/>
<ellipse cx="324" cy="772.5" rx="9.2" ry="10" transform="rotate(-131.8 324 772.5)" fill="#fff" stroke="#221e1e" stroke-width="2"/>
</g>
<!-- 30_pipes.svg -->
<g id="pipes" stroke-width="1.62">
<!-- lower pipe 10 -->
<!-- vertical pipe from hub -->
<path d="M277.4 688 L277.4 716 C282 719.5 300 719.5 306 716 L306 688Z" fill="#fff"/>
<path d="M277.4 706.5 C282 710 300 710 306 706.5" stroke-width="1.38"/>
<!-- elbow -->
<path d="M274 689.5 L274.5 664 C276 652 288 641 308.2 638.8 L311.5 671.8 L310.4 690 C304 694 280 694 274 689.5Z" fill="#fff"/>
<path d="M274.5 674 C280 678 304 678 310.7 674" stroke-width="1.38"/>
<path d="M274.3 664.5 C281 669 304 668.5 311 665" stroke-width="1.25"/>
<!-- coupling -->
<path d="M308.2 638.8 L330.2 634.8 C333.5 645 334 658 332.4 667.4 L311.5 671.8 C314 662 313 648 308.2 638.8Z" fill="#fff"/>
<!-- main -->
<path d="M330.8 637.5 L407.2 627.8 L409.4 655.3 L332.8 665.2" fill="#fff"/>
<!-- right coupling -->
<path d="M407.2 625.6 L431.4 624 C435 631 436.5 645 435.8 653 L410.5 657.5 C412 648 411 634 407.2 625.6Z" fill="#fff"/>
<path d="M426.5 624.5 C430 631 431.5 645 430.8 654" stroke-width="1.25"/><path d="M429.5 624.3 C433 631 434.5 645 433.8 653.4" stroke-width="1.25"/>
<path d="M433.5 627.5 L444.5 626.5 C447.5 632 448 645 446.5 651 L435.8 652.5Z" fill="#1c1c1c"/>
<!-- upper pipe 9 -->
<!-- elbow under diffuser -->
<path d="M273 574 L275 588 C277 597 290 604 306 605.8 L306 577 L303.8 573Z" fill="#fff"/>
<path d="M275 585 C281 588.5 297 588 303.5 584.5" stroke-width="1.25"/>
<!-- coupling 1 -->
<path d="M306 576.8 L316 576 C319.5 584 320 596 318.5 604.5 L306 605.8 C308.5 597 308 584 306 576.8Z" fill="#fff"/>
<!-- sleeve -->
<path d="M316 576 L334.6 574 C338 582 338.5 594 336.5 602.5 L318.5 604.5" fill="#fff"/>
<!-- main -->
<path d="M335.5 575.5 L407.2 564 L409.4 591.5 L337 600.3" fill="#fff"/>
<!-- right coupling -->
<path d="M407.2 563 L431.4 560.7 C435 568 436 581 434.7 588.2 L409.4 593.7 C411.5 584 411 571 407.2 563Z" fill="#fff"/>
<path d="M426.5 561.2 C430 568 431 581 429.7 589.4" stroke-width="1.25"/><path d="M429.5 561 C433 568 434 581 432.7 588.8" stroke-width="1.25"/>
<path d="M433 563.5 L444.5 562.5 C447.5 568 448 581 446.5 586.5 L435 588Z" fill="#1c1c1c"/>
<!-- clip 11 -->
<path d="M365.5 599.5 L371.5 598 L372 628 L366.5 630.5Z" fill="#fff" stroke-width="1.38"/>
<path d="M372 584 L380.8 582.7 L381.5 592 L380 598 L380.8 658.6 L372.8 659.5 L372 630 L371.5 598 Z" fill="#fff" stroke-width="1.5"/>
<path d="M366 607 L371.5 605.5 M366.5 622 L372 620.5" stroke-width="1.12"/>
</g>
<g id="diffuser" stroke-width="1.62">
<path d="M253.8 543 L256 562 L270 572.5 L275 576.5 L304 577 L310 572 L324 560 L327 543Z" fill="#fff"/>
<path d="M256 562 C262 568 277 571.5 291 571.5 C305 571.5 318 568 324 560" stroke-width="1.5"/>
<path d="M255.5 556 C262 562.5 277 566 291 566 C305 566 319 562.5 324.8 556" stroke-width="1.25"/>
<path d="M261.5 553 L262.5 565.5 M276 558 L276.5 570 M279 558.5 L279.5 570.5 M291.5 559.5 L291.5 571.5 M306.5 558.5 L306 570.5 M309.5 558 L309 570 M321 553.5 L319.5 564" stroke-width="2.38"/>
<path d="M264 555.5 L264.5 566.5 M273.5 557.5 L274 569 M312 557.5 L311.5 569 M318.5 555 L317.5 565.5" stroke-width="1.25"/>
<path d="M281 560.5 C287 562.5 296 562.5 304.5 560.5 L304 564 C296 566 287 566 281.5 564Z" fill="#221e1e" stroke-width="1"/>
<path d="M271 572.5 C278 575.5 300 576 309.5 572.5" stroke-width="2"/>
<ellipse cx="290.3" cy="542.3" rx="36.8" ry="15" fill="#fff" stroke-width="1.88"/>
<ellipse cx="290.3" cy="540" rx="36.8" ry="15" fill="#fff" stroke-width="1.62"/>
<path d="M256 546 C262 554.5 277 557 290.3 557 C304 557 319 554.5 324.6 546" stroke-width="2.25"/>
</g>

<!-- 50_box8.svg -->
<g id="box8" stroke-width="1.62">
<path d="M446.5 523.5 L631 500.5 L631 653 L447 673.5Z" stroke="#666" stroke-width="1.62" stroke-dasharray="8.5 3.5" stroke-linecap="butt"/>
<path d="M479 546 L514.5 543.3 C520 546 520 579.6 514.5 582.7 L479 583.5 Z" fill="#1c1c1c" stroke="#1c1c1c"/><path d="M489 547.2 L489.5 581.5 M499 546.5 L499.5 581.5 M509 545.8 L509.5 581.5" stroke="#444" stroke-width="0.88"/>
<path d="M479 608.5 L513.5 605.9 C519 608.6 519 643.1 513.5 646.2 L479 647 Z" fill="#1c1c1c" stroke="#1c1c1c"/><path d="M489 609.8 L489.5 645 M499 609 L499.5 645 M509 608.2 L509.5 645" stroke="#444" stroke-width="0.88"/>
<path d="M470 539 C477.5 539 480.5 548 480.3 560 L479 640 C478.5 651 475 658.5 468 658.5 C461 658.5 456.5 650 456.8 638 L458 558 C458.5 546 463 539 470 539Z" fill="#fff" stroke-width="1.75"/>
<path d="M469.5 542.5 C475.5 542.5 477.5 550 477.3 560 L476 639 C475.5 648 473 654.5 468 654.5 C463 654.5 459.5 648 459.8 638 L461 559 C461.5 549 464.5 542.5 469.5 542.5Z" fill="#1c1c1c" stroke-width="1.25"/>
<g fill="#fff" stroke="none"><rect x="461.2" y="546" width="4.2" height="4.6" rx="1" transform="rotate(-8 461.2 546)"/><rect x="466.3" y="546" width="4.2" height="4.7" rx="1" transform="rotate(-8 466.3 546)"/><rect x="462.4" y="551.7" width="4.4" height="4.4" rx="1" transform="rotate(-8 462.4 551.7)"/><rect x="467.5" y="551.7" width="3.7" height="4.2" rx="1" transform="rotate(-8 467.5 551.7)"/><rect x="472.6" y="551.7" width="4" height="4.3" rx="1" transform="rotate(-8 472.6 551.7)"/><rect x="462.4" y="563.1" width="4.2" height="3.8" rx="1" transform="rotate(-8 462.4 563.1)"/><rect x="467.5" y="563.1" width="4.1" height="3.8" rx="1" transform="rotate(-8 467.5 563.1)"/><rect x="461.2" y="568.8" width="3.8" height="3.9" rx="1" transform="rotate(-8 461.2 568.8)"/><rect x="466.3" y="568.8" width="3.8" height="4.8" rx="1" transform="rotate(-8 466.3 568.8)"/><rect x="462.4" y="574.5" width="3.8" height="4.7" rx="1" transform="rotate(-8 462.4 574.5)"/><rect x="467.5" y="574.5" width="4.3" height="4" rx="1" transform="rotate(-8 467.5 574.5)"/><rect x="461.2" y="580.2" width="3.7" height="3.7" rx="1" transform="rotate(-8 461.2 580.2)"/><rect x="466.3" y="580.2" width="4.1" height="3.6" rx="1" transform="rotate(-8 466.3 580.2)"/><rect x="471.4" y="580.2" width="3.9" height="4" rx="1" transform="rotate(-8 471.4 580.2)"/><rect x="462.4" y="585.9" width="4" height="4" rx="1" transform="rotate(-8 462.4 585.9)"/><rect x="467.5" y="585.9" width="4.2" height="3.7" rx="1" transform="rotate(-8 467.5 585.9)"/><rect x="472.6" y="585.9" width="3.6" height="4.5" rx="1" transform="rotate(-8 472.6 585.9)"/><rect x="461.2" y="591.6" width="3.6" height="4.5" rx="1" transform="rotate(-8 461.2 591.6)"/><rect x="466.3" y="591.6" width="4.1" height="3.6" rx="1" transform="rotate(-8 466.3 591.6)"/><rect x="462.4" y="597.3" width="4.4" height="3.8" rx="1" transform="rotate(-8 462.4 597.3)"/><rect x="467.5" y="597.3" width="4.3" height="4.7" rx="1" transform="rotate(-8 467.5 597.3)"/><rect x="472.6" y="597.3" width="3.9" height="4.2" rx="1" transform="rotate(-8 472.6 597.3)"/><rect x="461.2" y="603" width="3.7" height="4.5" rx="1" transform="rotate(-8 461.2 603)"/><rect x="466.3" y="603" width="4.3" height="3.6" rx="1" transform="rotate(-8 466.3 603)"/><rect x="471.4" y="603" width="3.7" height="4" rx="1" transform="rotate(-8 471.4 603)"/><rect x="462.4" y="608.7" width="4.3" height="4" rx="1" transform="rotate(-8 462.4 608.7)"/><rect x="467.5" y="608.7" width="4" height="4" rx="1" transform="rotate(-8 467.5 608.7)"/><rect x="472.6" y="608.7" width="3.7" height="3.7" rx="1" transform="rotate(-8 472.6 608.7)"/><rect x="461.2" y="614.4" width="4.2" height="4.8" rx="1" transform="rotate(-8 461.2 614.4)"/><rect x="462.4" y="620.1" width="4" height="4.1" rx="1" transform="rotate(-8 462.4 620.1)"/><rect x="461.2" y="625.8" width="4" height="4.1" rx="1" transform="rotate(-8 461.2 625.8)"/><rect x="462.4" y="631.5" width="4.3" height="3.8" rx="1" transform="rotate(-8 462.4 631.5)"/><rect x="467.5" y="631.5" width="4.1" height="4.5" rx="1" transform="rotate(-8 467.5 631.5)"/><rect x="461.2" y="637.2" width="3.7" height="4.6" rx="1" transform="rotate(-8 461.2 637.2)"/><rect x="462.4" y="642.9" width="4.3" height="4.8" rx="1" transform="rotate(-8 462.4 642.9)"/><rect x="467.5" y="642.9" width="4" height="4.5" rx="1" transform="rotate(-8 467.5 642.9)"/><rect x="472.6" y="642.9" width="3.8" height="4.1" rx="1" transform="rotate(-8 472.6 642.9)"/><rect x="461.2" y="648.6" width="3.9" height="4.8" rx="1" transform="rotate(-8 461.2 648.6)"/><rect x="466.3" y="648.6" width="4.1" height="4.2" rx="1" transform="rotate(-8 466.3 648.6)"/><rect x="471.4" y="648.6" width="3.7" height="3.9" rx="1" transform="rotate(-8 471.4 648.6)"/></g>
<path d="M476.2 552 C477.3 556 477.6 560 477.5 564 L476.3 638 C476.2 643 475.5 647 474.2 650" stroke="#fff" stroke-width="2"/>
<ellipse cx="536.7" cy="556" rx="10.5" ry="27" fill="#fff" stroke-width="1.62"/><ellipse cx="535.5" cy="556" rx="10.5" ry="27" fill="#fff" stroke-width="1.62"/><ellipse cx="535.8" cy="556" rx="6.3" ry="19" fill="#fff" stroke-width="1.62"/><path d="M537 538.5 A6.3 19 0 0 1 537 573.5" stroke-width="1.25"/>
<ellipse cx="534.7" cy="620" rx="10.5" ry="27" fill="#fff" stroke-width="1.62"/><ellipse cx="533.5" cy="620" rx="10.5" ry="27" fill="#fff" stroke-width="1.62"/><ellipse cx="533.8" cy="620" rx="6.3" ry="19" fill="#fff" stroke-width="1.62"/><path d="M535 602.5 A6.3 19 0 0 1 535 637.5" stroke-width="1.25"/>
<g transform="rotate(-5 565.5 552.2)"><ellipse cx="565.5" cy="552.2" rx="11.8" ry="29.2" fill="#fff" stroke-width="1.5"/><ellipse cx="565.5" cy="552.2" rx="8.6" ry="25" stroke="#221e1e" stroke-width="4.5"/><ellipse cx="566.3" cy="552.2" rx="5" ry="19.7" stroke-width="1.12"/></g>
<g transform="rotate(-5 571 615.3)"><ellipse cx="571" cy="615.3" rx="12" ry="29.2" fill="#fff" stroke-width="1.5"/><ellipse cx="571" cy="615.3" rx="8.8" ry="25" stroke="#221e1e" stroke-width="4.5"/><ellipse cx="571.8" cy="615.3" rx="5.2" ry="19.7" stroke-width="1.12"/></g>
<path d="M596 522.6 L608 523.6 C614 524.1 616.7 527.6 620.7 534.6 L622.7 564 C621.7 571 614 577 608 578 L598 578 Z" fill="#fff" stroke-width="1.62"/><path d="M602 523.1 C611.5 530.6 611.5 570 603 577.7" stroke-width="1.5"/><path d="M605 523.6 C614.5 530.6 614.5 570 606 577.5" stroke-width="1.25"/><path d="M612 536.6 L621.2 536.1 M613 549.8 L622.4 550.3 M612 565.5 L622.2 564.5" stroke-width="1.5"/><path d="M615.7 527.6 L616.2 536.1 M616.7 572 L616.7 564.5" stroke-width="1.25"/><ellipse cx="596" cy="550.3" rx="10" ry="27.7" fill="#fff" stroke-width="1.62"/><ellipse cx="596.3" cy="550.3" rx="8" ry="23.2" fill="#fff" stroke-width="1.25"/><ellipse cx="596.6" cy="550.3" rx="5.8" ry="19.2" fill="#221e1e" stroke-width="1.25"/>
<path d="M599 586 L611 587 C617 587.5 617.4 591 621.4 598 L623.4 627 C622.4 634 617 640 611 641 L601 641 Z" fill="#fff" stroke-width="1.62"/><path d="M605 586.5 C614.5 594 614.5 633 606 640.7" stroke-width="1.5"/><path d="M608 587 C617.5 594 617.5 633 609 640.5" stroke-width="1.25"/><path d="M615 600 L621.9 599.5 M616 613 L623.1 613.5 M615 628.5 L622.9 627.5" stroke-width="1.5"/><path d="M616.4 591 L616.9 599.5 M617.4 635 L617.4 627.5" stroke-width="1.25"/><ellipse cx="599" cy="613.5" rx="10" ry="27.5" fill="#fff" stroke-width="1.62"/><ellipse cx="599.3" cy="613.5" rx="8" ry="23" fill="#fff" stroke-width="1.25"/><ellipse cx="599.6" cy="613.5" rx="5.8" ry="19" fill="#221e1e" stroke-width="1.25"/>
</g>
<!-- 60_valve.svg -->
<g id="box7" stroke-width="1.62">
<path d="M643.3 442.5 L877.6 415.6 L878 620.5 L643.3 648.5Z" stroke="#666" stroke-width="1.62" stroke-dasharray="8.5 3.5" stroke-linecap="butt"/>
<!-- o-rings -->
<ellipse cx="664.4" cy="543.4" rx="6.3" ry="16" stroke-width="2.38" transform="rotate(-4 664.4 543.4)"/>
<ellipse cx="661.8" cy="607.8" rx="6.3" ry="16.5" stroke-width="2.38" transform="rotate(-4 661.8 607.8)"/>
<!-- lower long pipe -->
<path d="M728 585 L786 577 L806 602 L729 616Z" fill="#fff"/>
<path d="M705 584.5 L728 583.5 C731 592 731.5 608 729.5 619.5 L706 623.5Z" fill="#fff"/>
<path d="M716 584 C719 593 719.5 610 717.5 621.5" stroke-width="1.25"/>
<!-- lower right elbow -->
<path d="M786 577 L787 563 L800 556 L818 572 L816.5 588 L806 602 Z" fill="#fff"/>
<path d="M786 577 L800 590 L806 602 M800 590 L816.5 574" stroke-width="1.38"/>
<!-- bottom nut -->
<path d="M680 580.5 L697 580 C703 586 705.5 598 705.5 606 C705.5 615 703 624 698 628 L681 628.5 C675 624 673 614 673 604 C673 594 675 585 680 580.5Z" fill="#1c1c1c"/>
<path d="M690 585.5 L701 585 M691.5 593 L703 592.5 M692 601 L704 600.5 M692 609 L704 608.5 M691.5 617 L703 616.5 M690 624 L700 623.5" stroke="#fff" stroke-width="3.25" stroke-linecap="butt"/>
<ellipse cx="680.5" cy="604.5" rx="4.5" ry="19" fill="#1c1c1c" stroke="#777" stroke-width="1"/>
<!-- body main -->
<path d="M708 484 C706 492 706.5 503 709 512 L714 524 L726 526 L727 540 L733 552 L730 566 L742 572 L756 570 L760 560 L774 557 L800 556 L818.7 527 L818.7 497 L742 500Z" fill="#fff"/>
<path d="M733 552 C740 556 750 556 757 552 C762 546 764 535 762 525" stroke-width="1.38"/>
<path d="M742 572 L742.5 575 L753 575.5 L754 571 M745 575.5 L745 577.5 M750 575.5 L750 577.5" stroke-width="1.38"/>
<path d="M760 560 C764 552 765 540 763 528" stroke-width="1.25"/>
<path d="M744 505 C748 512 749 520 748 527" stroke-width="1.25"/>
<path d="M801 512 C806 515 812 514 818 510 M803 548 C808 546 813 540 816 532" stroke-width="1.25"/>
<!-- left gauge thing -->
<path d="M712 488 C716 485 722 486 727 490 L729.5 497 L729 510 L724 516.5 C718 517 713 514 710 509 C708.5 502 709 494 712 488Z" fill="#fff" stroke-width="1.38"/>
<path d="M711.5 490 C714 487.5 718 487.5 721.5 489.5 L718.5 514.5 C714.5 513.5 711.5 511 710.3 507.5 C709.5 501 709.8 495 711.5 490Z" fill="#2a2626" stroke-width="1"/>
<path d="M712.5 493.5 L716 491.5 M712 498 L716.5 496 M711.8 502.5 L716.5 500.5 M712 507 L716.5 505 M713 511 L717 509.5" stroke="#ddd" stroke-width="1.38"/>
<path d="M721.5 489.5 C725.5 492 727 497 726.5 503 C726 509 723 513.5 718.5 514.5" stroke-width="1.38"/>
<path d="M720.5 495 L724.5 497 L724 508 L720 510Z" fill="#2a2626" stroke-width="1"/>
<path d="M726.5 498 C729 500 730 504 729.5 508" stroke-width="1.25"/>
<!-- top left pipe stub & collar -->
<path d="M720 522 L742 520 L744 550 L722 554Z" fill="#fff"/>
<path d="M706 521 L719 519.5 C722 528 722.5 544 720.5 554 L707 556.5Z" fill="#fff"/>
<path d="M719 519.5 L728 518 L729 522" stroke-width="1.38"/>
<!-- top nut -->
<path d="M683 517.5 L699 517 C704.5 522 706.5 533 706.5 541 C706.5 550 704.5 560 700 564 L684 564.5 C678 560 676 551 676 541 C676 531 678 522 683 517.5Z" fill="#1c1c1c"/>
<path d="M692 522.5 L702 522 M693.5 530 L704.5 529.5 M694 538 L705.5 537.5 M694 546 L705.5 545.5 M693.5 554 L704.5 553.5 M692 560.5 L701 560" stroke="#fff" stroke-width="3.25" stroke-linecap="butt"/>
<ellipse cx="683.5" cy="541" rx="4.5" ry="19" fill="#1c1c1c" stroke="#777" stroke-width="1"/>
<!-- port 2 (lower right) -->
<ellipse cx="812" cy="558.5" rx="21" ry="21.5" fill="#fff"/>
<ellipse cx="813.5" cy="560" rx="19" ry="19.5" stroke-width="1.38"/>
<path d="M797 543 L800 546 M801 540 L803.5 543.5 M805.5 538 L807.5 541.5 M810.5 537 L811.5 540.5 M815.5 537 L816 540.5" stroke-width="1.62"/>
<ellipse cx="817" cy="563.5" rx="19.5" ry="19" fill="#fff"/>
<ellipse cx="821.5" cy="567.5" rx="16.5" ry="16" fill="#fff"/>
<ellipse cx="821.5" cy="567.5" rx="12.5" ry="10.5" stroke-width="1.38" transform="rotate(-20 821.5 567.5)"/>
<path d="M811 566 C815 560 825 556.5 832 559.5 C827 561 817 565 811 571Z" fill="#1c1c1c"/>
<!-- port 1 (upper) -->
<ellipse cx="776" cy="530.5" rx="22.5" ry="22.5" fill="#fff"/>
<ellipse cx="777.5" cy="532" rx="20" ry="20.5" stroke-width="1.38"/>
<path d="M757 520 L760.5 522 M759.5 515.5 L763 518 M763 512 L766 515 M767.5 509.5 L769.5 513 M772.5 508.5 L773.5 512 M778 508.5 L778 512" stroke-width="1.62"/>
<ellipse cx="781.5" cy="535.5" rx="20" ry="20" fill="#fff"/>
<ellipse cx="787" cy="540.5" rx="16" ry="16.5" fill="#fff"/>
<ellipse cx="787" cy="540.5" rx="12.5" ry="10.5" stroke-width="1.38" transform="rotate(-20 787 540.5)"/>
<path d="M776.5 540 C780 533 790 529.5 797.5 532 C792 534 782 538 777 545Z" fill="#1c1c1c"/>
<!-- lid -->
<path d="M719.7 472.2 L727.8 465 L749.4 456 L807 462.3 L825 475.8 L825 495.6 L790.8 511 L742 505 L720 489Z" fill="#fff" stroke-width="1.75"/>
<path d="M719.7 478.5 L740.4 494.5 L790.8 500 L825 482 M740.4 494.5 L742 505 M790.8 500 L790.8 511" stroke-width="1.38"/>
<path d="M723 473 L729.5 467.5 L750 459.5 L805.5 465.5 L821 477 L789.5 495.5 L741.5 490.5Z" stroke-width="1.25"/>
<ellipse cx="772.5" cy="476" rx="42" ry="15" stroke-width="1.38"/>
<ellipse cx="772" cy="474.5" rx="36" ry="12.5" stroke-width="1.25"/>
<ellipse cx="771" cy="472" rx="26" ry="9.5" fill="#fff" stroke-width="1.5"/>
<ellipse cx="771" cy="472" rx="22" ry="7.5" stroke="#1c1c1c" stroke-width="2.75"/>
<circle cx="724.5" cy="473.5" r="1" fill="#222"/><circle cx="818.5" cy="478" r="1" fill="#222"/><circle cx="741" cy="487.5" r="1" fill="#222"/>
<!-- handle hub -->
<path d="M757 474.6 L758.2 459 L763.4 451.5 L770 449.5 L779 457.7 L781.6 472 L783 475 C778 481.5 762 481.5 757 474.6Z" fill="#fff" stroke-width="1.62"/>
<path d="M758.2 459 L766 462 L779 457.7 M766 462 L766.5 480" stroke-width="1.25"/>
<circle cx="775" cy="474" r="1.3" stroke-width="1.12"/>
<!-- handle arm -->
<path d="M763.4 451.5 C768 449.5 774 448.5 779 448 C786 446.5 792 445 798.5 443.4 C805 441.5 812 439.5 818 437.6 C825 434 832 430.5 838.8 428.5 C844 427.3 848 427.3 851.8 427.8 C856 428.5 859.5 430.5 861 433 C862.5 435.5 862.8 437.5 862.2 439.5 C861.5 443 859.5 446 857 448 C851 449.5 844 449.5 837.5 449.3 C830 450 823 451.2 816.7 452.5 C810 456 804 459.5 798.5 463 C792 466.5 786 469.5 781.6 472 L779 457.7 L770 449.5Z" fill="#fff" stroke-width="1.62"/>
<path d="M770 449.5 L775 452.5 C790 450 803 447 816.7 443.4 L816.7 452.5 M775 452.5 L779 457.7 M797 447.5 L798.5 463 M799 447 L800 455" stroke-width="1.25"/>
<path d="M816.7 443.4 C823 444.5 830 445.5 837.5 446 C845 446.3 851 446 857 445.4 C859.5 444 861.2 442 862.2 439.5" stroke-width="1.25"/>
<!-- grip top face -->
<path d="M818 438.2 C825 434.5 832 431 838.8 429.8 C844 428.8 848 428.8 851.8 429.3 C856 430 858.8 431.5 860 433.5 C861 436 860.5 439 857 441.5 C851 442.3 844 442.3 837.5 442 C830 442.2 824 442 818 442Z" fill="#221e1e" stroke-width="1.12"/>
<g fill="#cfcfcf" stroke="none"><rect x="824" y="437.5" width="4" height="1.8" rx="0.9" transform="rotate(-15 826 438)"/><rect x="830.5" y="434.8" width="4.5" height="1.8" rx="0.9" transform="rotate(-15 832 435)"/><rect x="838" y="432.5" width="4.5" height="1.8" rx="0.9" transform="rotate(-12 840 433)"/><rect x="845.5" y="431.5" width="4" height="1.8" rx="0.9"/><rect x="852" y="432" width="3.5" height="1.8" rx="0.9" transform="rotate(10 853 433)"/><rect x="829" y="439.3" width="4.5" height="1.6" rx="0.8" transform="rotate(-6 831 440)"/><rect x="836.5" y="438" width="4.5" height="1.6" rx="0.8" transform="rotate(-6 838 439)"/><rect x="844" y="437" width="4.5" height="1.6" rx="0.8" transform="rotate(-4 846 438)"/><rect x="851.5" y="436.8" width="4" height="1.6" rx="0.8"/></g>
</g>

<!-- 70_drain.svg -->
<g id="drain" stroke-width="1.5">
<!-- end cap -->
<path d="M506 789 L522 780.5 C527 781 531.5 785 532.5 790 L531 795 L516 802.5 C510 802 506 797 505 792Z" fill="#fff" stroke-width="1.75"/>
<path d="M514 785 C518 787 521.5 792 522 799" stroke-width="1.38"/>
<path d="M506 789 C509 790 513 795 514 802 L507 797Z" fill="#1c1c1c"/>
<!-- nut -->
<path d="M487.5 772 C489 766 497 760.5 506 759.5 L516 760.5 C522 764 526 771 526.5 778 L512 790.5 C505 792 496 789 491 783 Z" fill="#1c1c1c" stroke-width="1.5"/>
<path d="M496.5 782 L499.5 775 M500.5 784.5 L503.5 777 M504.5 786.5 L507.5 779 M508.5 787.5 L511.5 780 M512.5 786.5 L515.5 779 M516.5 784 L519 777 M520 781 L522.5 774.5" stroke="#fff" stroke-width="2.38" stroke-linecap="butt"/>
<path d="M492 771 C497 766.5 505 764.5 513 765.5" stroke="#777" stroke-width="0.88"/>
<!-- stem -->
<path d="M485 747.5 L500 768" stroke="#1c1c1c" stroke-width="10.62" stroke-linecap="round"/>
</g>

<!-- 90_labels.svg -->
<g id="leaders" stroke="#555" stroke-width="1.19">
<path d="M284 163 L755.5 106"/>
<path d="M345 207.5 L755.5 157 M358.4 206 L358.4 222 L339 223.5"/>
<path d="M362 277 L755.5 226.5"/>
<path d="M378 336 L755.5 290"/>
<path d="M358 393 L755.5 344"/>
<path d="M414 452.5 L567 433"/>
<path d="M725 640 L725 667.5 L756 664"/>
<path d="M606 656 L606 728 L756 709"/>
<path d="M365 534 L365 573"/>
<path d="M405 656 L405 672"/>
<path d="M260 628 L368 614.5"/>
<path d="M180 702.5 L191 704"/>
<path d="M533 790 L756 756"/>
<path d="M445 842 L756 802"/>
</g>
<g id="circles" stroke="#444" stroke-width="1.25" fill="#fff">
<circle cx="772" cy="103" r="16.2"/>
<circle cx="772" cy="154" r="16.2"/>
<circle cx="772" cy="224.5" r="16.2"/>
<circle cx="772" cy="288" r="16.2"/>
<circle cx="772" cy="342" r="16.2"/>
<circle cx="583" cy="430" r="16.2"/>
<circle cx="772.5" cy="662.5" r="16.2"/>
<circle cx="772.5" cy="708" r="16.2"/>
<circle cx="364.5" cy="518" r="16.2"/>
<circle cx="406" cy="688" r="16.2"/>
<circle cx="244" cy="629" r="16.2"/>
<circle cx="164" cy="701" r="16.2"/>
<circle cx="772.5" cy="752.5" r="16.2"/>
<circle cx="772.7" cy="801" r="16.2"/>
</g>
<g id="nums" stroke="none" class="n">
<text x="772" y="112">2</text>
<text x="772" y="163">1</text>
<text x="772" y="233.5">3</text>
<text x="772" y="297">4</text>
<text x="772" y="351">5</text>
<text x="583" y="439">6</text>
<text x="772.5" y="671.5">7</text>
<text x="772.5" y="717">8</text>
<text x="364.5" y="527">9</text>
<text x="406" y="697" textLength="25" lengthAdjust="spacingAndGlyphs">10</text>
<text x="244" y="638" textLength="25" lengthAdjust="spacingAndGlyphs">11</text>
<text x="164" y="710" textLength="25" lengthAdjust="spacingAndGlyphs">12</text>
<text x="772.5" y="761.5" textLength="25" lengthAdjust="spacingAndGlyphs">13</text>
<text x="772.7" y="810" textLength="25" lengthAdjust="spacingAndGlyphs">14</text>
</g>
<!-- 95_watermark.svg -->
<g class="wm2" font-size="46.5" style="font-family:'Liberation Sans',sans-serif" stroke-linejoin="round">
<text x="301" y="978" fill="#fff" stroke="#fff" stroke-width="2" textLength="390" lengthAdjust="spacing" style="filter:drop-shadow(2.5px 3px 1.4px rgba(0,0,0,0.5))">bcosy-outdoor.be</text>
</g>


</svg>
</body></html>
